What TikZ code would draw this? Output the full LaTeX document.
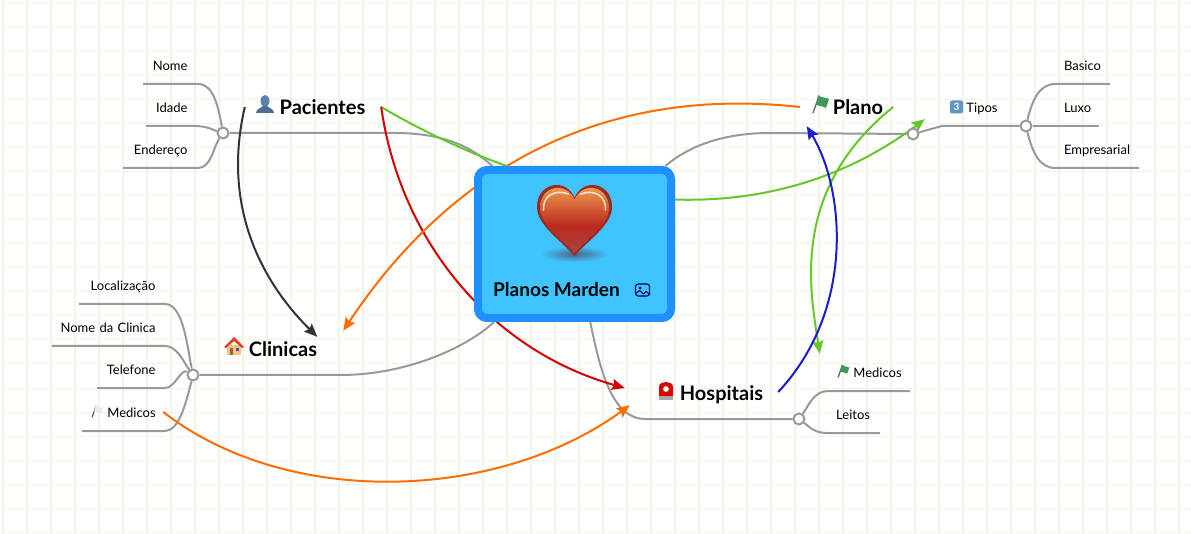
\documentclass[tikz,border=0pt]{standalone}
\usepackage{fontspec}
\setmainfont{Lato}
\usetikzlibrary{shapes.geometric,positioning,arrows.meta,calc}
\pgfdeclarelayer{background}
\pgfsetlayers{background,main}
\definecolor{gridline}{HTML}{F0F5E8}
\definecolor{branchgrey}{HTML}{999999}
\definecolor{boxedge}{HTML}{1E90FF}
\definecolor{boxfill}{HTML}{40C4FF}
\definecolor{linkorange}{HTML}{FF6D00}
\definecolor{linkred}{HTML}{D50000}
\definecolor{linkgreen}{HTML}{64C82A}
\definecolor{linkblue}{HTML}{1C1CCC}
\definecolor{linkdark}{HTML}{333333}
\definecolor{heartrim}{HTML}{9C2A22}
\definecolor{hearttop}{HTML}{EE9C4E}
\definecolor{heartmid}{HTML}{BC2A1E}
\definecolor{heartlow}{HTML}{A84646}
\definecolor{flaggreen}{HTML}{3F9A55}
\definecolor{personblue}{HTML}{5B82AB}
\definecolor{keyblue}{HTML}{5F96C4}
\newcommand{\heartpath}{(0,36) .. controls (-14,20) and (-37.5,5) .. (-37.5,-13) .. controls (-37.5,-28) and (-27,-35) .. (-18,-35) .. controls (-10,-35) and (-3,-30) .. (0,-22) .. controls (3,-30) and (10,-35) .. (18,-35) .. controls (27,-35) and (37.5,-28) .. (37.5,-13) .. controls (37.5,5) and (14,20) .. (0,36) -- cycle}
\tikzset{
	pics/hearticon/.style={code={
		\shade[inner color=boxedge!35!black!75, outer color=boxfill] (0,34) ellipse (34 and 8);
		\fill[heartrim] \heartpath;
		\begin{scope}[scale=.92]
			\clip \heartpath;
			\shade[top color=hearttop, bottom color=heartmid] (-40,-36) rectangle (40,6);
			\shade[top color=heartmid, bottom color=heartlow] (-40,6) rectangle (40,37);
		\end{scope}
		\draw[white, opacity=.75, line width=1.6pt, line cap=round] (-31,-10) .. controls (-32,-24) and (-20,-31) .. (-6,-26);
		\draw[white, opacity=.75, line width=1.6pt, line cap=round] (6,-26) .. controls (20,-31) and (32,-24) .. (31,-10);
	}},
	pics/flagicon/.style={code={
		\draw[black!60, line width=1.3pt] (-7,9) -- (-1,-8);
		\fill[#1] (-2,-9) .. controls (1,-6) and (5,-7) .. (9,-5) -- (6,4) .. controls (3,2) and (0,2) .. (-4,1) -- cycle;
	}},
	pics/personicon/.style={code={
		\fill[personblue] (0,-4) ellipse (4.5 and 6);
		\fill[personblue!85!black] (-9,8) .. controls (-9,4) and (-4,3) .. (-2,1) -- (2,1) .. controls (4,3) and (9,4) .. (9,8) -- cycle;
	}},
	pics/houseicon/.style={code={
		\fill[orange!40!white!85!brown] (-7,-2) rectangle (7,8);
		\fill[red!50!brown] (0,-10) -- (10,0) -- (8,1) -- (0,-6) -- (-8,1) -- (-10,0) -- cycle;
		\fill[brown!80!black] (-4,1) rectangle (-1,8);
		\fill[blue!40!gray] (2,1) rectangle (5,4);
	}},
	pics/sirenicon/.style={code={
		\fill[red!85!black] (-7,6) -- (-7,-4) .. controls (-7,-8) and (-3,-9) .. (0,-9) .. controls (3,-9) and (7,-8) .. (7,-4) -- (7,6) -- cycle;
		\fill[gray!70] (-7,5) rectangle (7,9);
		\node[star, star points=8, fill=white, inner sep=1.6pt] (sirenglow) at (0,-2) {};
	}},
	pics/keycapicon/.style={code={
		\fill[keyblue, rounded corners=2pt] (-6.5,-6.5) rectangle (6.5,6.5);
		\node[text=white, font=\bfseries\fontsize{10}{10}\selectfont, inner sep=0] (keythree) at (0,0) {3};
	}},
	pics/imageicon/.style={code={
		\draw[black!70!blue, line width=1.1pt, rounded corners=2.5pt] (-7,-6) rectangle (7,6);
		\fill[black!70!blue] (-2.5,-2) circle (1.5);
		\draw[black!70!blue, line width=1pt] (-7,4) -- (-3,0.5) -- (1,4) -- (3.5,1.5) -- (7,4);
	}}
}
\begin{document}
\begin{tikzpicture}[x=1pt,y=-1pt,
					every node/.style={on grid},
					topic/.style={font=\bfseries\fontsize{20}{22}\selectfont, inner sep=0, text height=17pt, text depth=1pt},
					subtopic/.style={font=\fontsize{13}{15}\selectfont, inner sep=0, text height=12pt, text depth=1pt},
					leafL/.style={subtopic, text width=110pt, align=right},
					leafR/.style={subtopic, text width=90pt, align=left},
					junction/.style={circle, draw=branchgrey, fill=white, line width=2pt, minimum size=11pt, inner sep=0},
					branch/.style={draw=branchgrey, line width=2pt},
					link/.style={line width=2pt, ->},
					node distance=42pt,
					>={Stealth[length=13pt,width=11pt,inset=2pt]}]
	\useasboundingbox (0,0) rectangle (1191,534);

	\node[draw=boxedge, fill=boxfill, line width=8pt, rounded corners=9pt, minimum width=193pt, minimum height=148pt] (box) at (574.5,244) {};
	\node[font=\bfseries\fontsize{19}{22}\selectfont, inner sep=0, text height=17pt, text depth=1pt] (title) at (556.5,289) {Planos Marden};
	\pic at (574.5,220) {hearticon};
	\pic at (642.5,290) {imageicon};

	\node[topic, minimum width=136pt, minimum height=34pt] (pacientes) at (313,107) {\hspace*{19pt}Pacientes};
	\node[topic, minimum width=93pt, minimum height=38pt] (plano) at (846.5,107) {\hspace*{23pt}Plano};
	\node[topic, minimum width=118pt, minimum height=34pt] (clinicas) at (284,348) {\hspace*{-2pt}Clinicas};
	\node[topic, minimum width=151pt, minimum height=28pt] (hospitais) at (702.5,392) {\hspace*{38pt}Hospitais};
	\node[subtopic, minimum width=85pt, minimum height=24pt] (tipos) at (967.5,107) {\hspace*{29pt}Tipos};
	\node[subtopic, minimum width=95pt, minimum height=36pt] (medicosH) at (867.5,372) {\hspace*{20pt}Medicos};
	\node[subtopic, minimum width=78pt] (medicosC) at (124,412) {\hspace*{15pt}Medicos};
	\node[subtopic, anchor=west] (leitos) at (836,414) {Leitos};

	\pic at (265,105) {personicon};
	\pic at (820,104) {flagicon=flaggreen};
	\pic at (234,347) {houseicon};
	\pic at (666,391) {sirenicon};
	\pic at (956.5,107) {keycapicon};
	\pic[scale=.7] at (843,371) {flagicon=flaggreen};
	\pic[scale=.7] at (97,411) {flagicon={black!8}};

	\node[leafL] (nome) at (132.5,65) {Nome};
	\node[leafL, below= of nome] (idade) {Idade};
	\node[leafL, below= of idade] (endereco) {Endereço};

	\node[leafL] (localizacao) at (100.5,285) {Localização};
	\node[leafL, below= of localizacao] (nomeclinica) {Nome da Clinica};
	\node[leafL, below= of nomeclinica] (telefone) {Telefone};

	\node[leafR] (basico) at (1109,65) {Basico};
	\node[leafR, below= of basico] (luxo) {Luxo};
	\node[leafR, below= of luxo] (empresarial) {Empresarial};

	\node[junction] (jPacientes) at (223,133) {};
	\node[junction] (jClinicas) at (193,375) {};
	\node[junction] (jHospitais) at (799,419) {};
	\node[junction] (jPlano) at (913,134) {};
	\node[junction] (jTipos) at (1026,126) {};

	\coordinate (endNome) at (143,84);
	\coordinate (endIdade) at (146,126);
	\coordinate (endEndereco) at (123,168);
	\coordinate (endLocal) at (79,304);
	\coordinate (endClinica) at (52,346);
	\coordinate (endTelefone) at (97,388);
	\coordinate (endMedicos) at (82,431);
	\coordinate (endBasico) at (1110,84);
	\coordinate (endLuxo) at (1099,126);
	\coordinate (endEmpresa) at (1139,168);
	\coordinate (endMedH) at (910,391);
	\coordinate (endLeitos) at (880,433);

	\begin{pgfonlayer}{background}
		\fill[white] (0,0) rectangle (1191,534);
		\foreach \gx in {0,...,49} {
			\draw[gridline, line width=1.6pt] ({3+24*\gx},0) -- ({3+24*\gx},534);
		}
		\foreach \gy in {0,...,22} {
			\draw[gridline, line width=1pt] (0,{4+24*\gy}) -- (1191,{4+24*\gy});
		}

		\draw[branch] (jPacientes) -- (395,133) .. controls (440,133) and (470,145) .. (box);
		\draw[branch] (box) .. controls (690,145) and (725,133) .. (770,133) -- (jPlano);
		\draw[branch] (box) .. controls (470,345) and (410,375) .. (340,375) -- (jClinicas);
		\draw[branch] (box) .. controls (600,370) and (612,419) .. (645,419) -- (jHospitais);
		\draw[branch] (jPlano) -- (942,126) -- (jTipos);

		\draw[branch] (endNome) -- (198,84) .. controls +(15,0) and +(-5,-28) .. (jPacientes);
		\draw[branch] (endIdade) -- (195,126) .. controls +(12,0) and +(-10,-3) .. (jPacientes);
		\draw[branch] (endEndereco) -- (198,168) .. controls +(13,0) and +(-10,15) .. (jPacientes);

		\draw[branch] (endLocal) -- (165,304) .. controls +(18,0) and +(-6,-30) .. (jClinicas);
		\draw[branch] (endClinica) -- (165,346) .. controls +(12,0) and +(-10,-14) .. (jClinicas);
		\draw[branch] (endTelefone) -- (165,388) .. controls +(10,0) and +(-12,-7) .. (jClinicas);
		\draw[branch] (endMedicos) -- (165,431) .. controls +(14,0) and +(-7,28) .. (jClinicas);

		\draw[branch] (endBasico) -- (1055,84) .. controls +(-16,0) and +(6,-25) .. (jTipos);
		\draw[branch] (endLuxo) -- (jTipos);
		\draw[branch] (endEmpresa) -- (1055,168) .. controls +(-16,0) and +(6,25) .. (jTipos);

		\draw[branch] (endMedH) -- (828,391) .. controls +(-14,0) and +(10,-14) .. (jHospitais);
		\draw[branch] (endLeitos) -- (828,433) .. controls +(-14,0) and +(12,9) .. (jHospitais);

		\draw[link, linkgreen] (pacientes.east) .. controls (540,200) and (750,250) .. (tipos.south west);
		\draw[link, linkred] (pacientes.east) .. controls (400,240) and (490,350) .. ($(hospitais.west)+(-2,-4)$);
		\draw[link, linkorange] (plano.west) .. controls (600,85) and (450,170) .. (clinicas.north east);
	\end{pgfonlayer}

	\draw[link, linkdark] (pacientes.west) .. controls (222,205) and (260,280) .. ($(clinicas.north east)+(-26,6)$);
	\draw[link, linkgreen] (plano.east) .. controls (790,190) and (810,290) .. (medicosH.north west);
	\draw[link, linkblue] (hospitais.east) .. controls (855,310) and (845,190) .. ($(plano.south west)+(7,0)$);
	\draw[link, linkorange] (medicosC.east) .. controls (290,510) and (500,500) .. ($(hospitais.south west)+(3,-1)$);
\end{tikzpicture}
\end{document}
